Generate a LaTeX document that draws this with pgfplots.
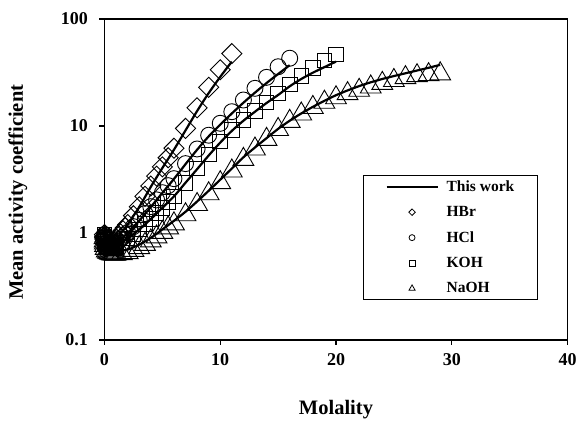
\documentclass[border=0pt]{standalone}
\usepackage{fontspec}
\setmainfont{Liberation Serif}
\usepackage{pgfplots}
\usepackage{pgfplotstable}
\pgfplotsset{compat=1.18}

% HBr experimental
\pgfplotstableread{
x y
0.001 0.966
0.005 0.930
0.01 0.906
0.02 0.879
0.05 0.838
0.1 0.805
0.2 0.782
0.3 0.777
0.4 0.781
0.5 0.789
0.6 0.801
0.7 0.815
0.8 0.832
0.9 0.850
1.0 0.871
1.2 0.92
1.4 0.98
1.6 1.05
1.8 1.12
2.0 1.20
2.5 1.45
3.0 1.76
3.5 2.20
4.0 2.75
4.5 3.40
5.0 4.15
5.5 5.05
6.0 6.2
7 9.5
8 14.8
9 23
10 33.5
11 47.5
}\hbrdata

\pgfplotstableread{
x y
0.001 0.96
0.01 0.905
0.05 0.84
0.1 0.805
0.2 0.783
0.3 0.778
0.5 0.79
0.75 0.82
1 0.87
1.5 1.02
2 1.2
3 1.75
4 2.7
5 4.05
6 6.0
7 9.1
8 13.8
9 20.3
10 28.8
11 40
}\hbrline

% HCl
\pgfplotstableread{
x y
0.001 0.966
0.005 0.929
0.01 0.904
0.02 0.875
0.05 0.830
0.1 0.796
0.2 0.767
0.3 0.756
0.4 0.755
0.5 0.757
0.6 0.763
0.7 0.772
0.8 0.783
0.9 0.795
1.0 0.809
1.2 0.84
1.4 0.876
1.6 0.916
1.8 0.960
2.0 1.009
2.5 1.147
3 1.316
3.5 1.518
4 1.762
4.5 2.04
5 2.38
5.5 2.77
6 3.22
7 4.45
8 6.1
9 8.2
10 10.6
11 13.6
12 17.5
13 22.5
14 28.5
15 35.8
16 43
}\hcldata

\pgfplotstableread{
x y
0.001 0.96
0.01 0.904
0.05 0.83
0.1 0.796
0.2 0.768
0.4 0.756
0.7 0.772
1 0.81
2 1.0
3 1.3
4 1.75
5 2.37
6 3.2
7 4.4
8 6.0
9 8.0
10 10.3
11 13.1
12 16.5
13 20.5
14 25.2
15 30.6
16 37
}\hclline

% KOH
\pgfplotstableread{
x y
0.001 0.965
0.01 0.90
0.02 0.868
0.05 0.824
0.1 0.798
0.2 0.760
0.3 0.742
0.4 0.734
0.5 0.728
0.6 0.727
0.7 0.727
0.8 0.733
0.9 0.743
1.0 0.756
1.5 0.815
2 0.888
2.5 0.975
3 1.081
3.5 1.21
4 1.352
4.5 1.53
5 1.72
5.5 1.95
6 2.20
7 2.95
8 4.0
9 5.4
10 7.2
11 9.2
12 11.4
13 13.8
14 16.6
15 20.2
16 24.5
17 29.5
18 35
19 41
20 46.8
}\kohdata

\pgfplotstableread{
x y
0.001 0.96
0.01 0.90
0.05 0.824
0.1 0.798
0.2 0.760
0.4 0.734
0.7 0.728
1 0.756
2 0.888
3 1.08
4 1.35
5 1.72
6 2.2
7 2.95
8 3.95
9 5.3
10 7.0
11 9.0
12 11.2
13 13.6
14 16.4
15 19.5
16 23.5
17 27.5
18 31.5
19 35.5
20 40
}\kohline

% NaOH
\pgfplotstableread{
x y
0.001 0.965
0.01 0.899
0.02 0.86
0.05 0.818
0.1 0.766
0.2 0.727
0.3 0.708
0.4 0.697
0.5 0.690
0.6 0.685
0.7 0.681
0.8 0.679
0.9 0.678
1.0 0.679
1.5 0.684
2 0.70
2.5 0.735
3 0.78
3.5 0.835
4 0.90
4.5 0.98
5 1.08
5.5 1.19
6 1.30
7 1.58
8 1.97
9 2.48
10 3.15
11 4.05
12 5.2
13 6.5
14 8.0
15 9.9
16 11.8
17 13.8
18 15.9
19 17.8
20 19.6
21 21.4
22 23
23 24.7
24 26.7
25 28.4
26 30.2
27 31.5
28 32.2
29 32.8
}\naohdata

\pgfplotstableread{
x y
0.001 0.96
0.01 0.899
0.05 0.818
0.1 0.766
0.2 0.727
0.4 0.697
0.7 0.681
1 0.68
2 0.70
3 0.78
4 0.90
5 1.08
6 1.30
7 1.58
8 1.97
9 2.48
10 3.15
11 4.0
12 5.1
13 6.3
14 7.7
15 9.4
16 11.2
17 13.1
18 15.1
19 17.2
20 19.4
21 21.5
22 23.6
23 25.6
24 27.5
25 29.3
26 31.1
27 33.0
28 35.0
29 37.3
}\naohline

\begin{document}
\begin{tikzpicture}
\begin{axis}[
  at={(0pt,0pt)}, anchor=south west,
  scale only axis, width=463pt, height=321pt,
  xmin=0, xmax=40, ymode=log, ymin=0.1, ymax=100,
  xtick={0,10,20,30,40}, xticklabels={0,10,20,30,40},
  ytick={0.1,1,10,100}, yticklabels={0.1,1,10,100},
  yminorticks=false, xminorticks=false,
  xtick pos=bottom, ytick pos=left,
  tick align=outside, major tick length=5pt,
  tick style={line width=1.3pt, black},
  axis line style={line width=1.6pt},
  ticklabel style={font=\bfseries\fontsize{18}{21}\selectfont},
  xticklabel style={yshift=-5pt},
  yticklabel style={xshift=-8pt},
  label style={font=\bfseries\fontsize{20.5}{24}\selectfont},
  xlabel={Molality}, ylabel={Mean activity coefficient},
  xlabel style={at={(axis description cs:0.5,-0.218)}, anchor=center},
  ylabel style={at={(axis description cs:-0.187,0.46)}, anchor=center},
  clip=false,
  legend image code/.code={\draw[mark repeat=2,mark phase=2,#1] plot coordinates {(0pt,0pt) (25.5pt,0pt) (51pt,0pt)};},
  legend style={draw=black, line width=1.2pt, fill=white,
    at={(0.558,0.514)}, anchor=north west,
    font=\bfseries\fontsize{15.5}{18}\selectfont,
    row sep=9.5pt, column sep=6pt, inner xsep=22pt, inner ysep=3pt},
  legend cell align=left,
]
\addlegendimage{black, line width=2.2pt}
\addlegendentry{\makebox[67pt][l]{This work}}
\addlegendimage{only marks, mark=square, mark size=2.3pt, mark options={rotate=45, line width=0.8pt}}
\addlegendentry{HBr}
\addlegendimage{only marks, mark=o, mark size=3pt, mark options={line width=0.8pt}}
\addlegendentry{HCl}
\addlegendimage{only marks, mark=square, mark size=3pt, mark options={line width=0.8pt}}
\addlegendentry{KOH}
\addlegendimage{only marks, mark=triangle, mark size=3.5pt, mark options={line width=0.8pt}}
\addlegendentry{NaOH}

\addplot[forget plot, only marks, mark=square, mark size=7.1pt, mark options={rotate=45, line width=0.9pt}] table {\hbrdata};
\addplot[forget plot, only marks, mark=o, mark size=8pt, mark options={line width=0.9pt}] table {\hcldata};
\addplot[forget plot, only marks, mark=square, mark size=7.3pt, mark options={line width=0.9pt}] table {\kohdata};
\addplot[forget plot, only marks, mark=triangle, mark size=12pt, mark options={line width=0.9pt, yshift=-3pt}] table {\naohdata};

\addplot[forget plot, black, line width=2.2pt, smooth] table {\hbrline};
\addplot[forget plot, black, line width=2.2pt, smooth] table {\hclline};
\addplot[forget plot, black, line width=2.2pt, smooth] table {\kohline};
\addplot[forget plot, black, line width=2.2pt, smooth] table {\naohline};
\end{axis}
\pgfresetboundingbox
\useasboundingbox (-104.5pt,-82pt) rectangle (472.5pt,340pt);
\end{tikzpicture}
\end{document}
